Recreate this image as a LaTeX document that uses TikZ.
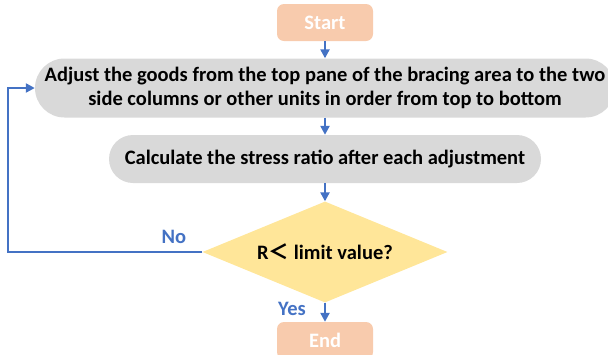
\documentclass[tikz,border=0pt]{standalone}
\usepackage{fontspec}
\setmainfont{Carlito}
\newfontfamily\cjkfont{Noto Sans CJK SC}
\usetikzlibrary{shapes.geometric,arrows.meta}
\definecolor{peach}{HTML}{F8CBAD}
\definecolor{greybox}{HTML}{D9D9D9}
\definecolor{gold}{HTML}{FFE699}
\definecolor{arrowblue}{HTML}{4472C4}
\tikzset{
  x=1pt, y=-1pt,
  every node/.style={font=\fontsize{20.5}{23.5}\selectfont\bfseries, inner sep=0pt},
  terminal/.style={rectangle, rounded corners=7pt, fill=peach, text=white, minimum width=96pt, minimum height=37pt},
  pill/.style={rectangle, fill=greybox, text=black, align=center},
  decision/.style={diamond, aspect=2.43, fill=gold, text=black, minimum width=245pt, minimum height=101pt},
  flow/.style={draw=arrowblue, line width=2.4pt, -{Triangle[length=9pt,width=9pt]}},
  lbl/.style={text=arrowblue}
}
\begin{document}
\begin{tikzpicture}
\useasboundingbox (0,0) rectangle (608,354);
\clip (0,0) rectangle (608,354);
\node[terminal] (start) at (325,22.5) {Start};
\node[pill, rounded corners=29.5pt, minimum width=580pt, minimum height=59pt] (adjust) at (325,88)
  {Adjust the goods from the top pane of the bracing area to the two\\side columns or other units in order from top to bottom};
\node[pill, rounded corners=24pt, minimum width=432pt, minimum height=48pt] (calc) at (325,159)
  {Calculate the stress ratio after each adjustment};
\node[decision] (dec) at (325,252) {R{\cjkfont ＜} limit value?};
\node[terminal] (end) at (325,340.5) {End};
\coordinate (loop) at (8,252);
\draw[flow] (start) -- (adjust);
\draw[flow] (adjust) -- (calc);
\draw[flow] (calc) -- (dec);
\draw[flow] (dec) -- (end);
\draw[flow] (dec.west) -- (loop) |- (adjust.west);
\node[lbl] (no) at (174,237) {No};
\node[lbl] (yes) at (292,309) {Yes};
\end{tikzpicture}
\end{document}
